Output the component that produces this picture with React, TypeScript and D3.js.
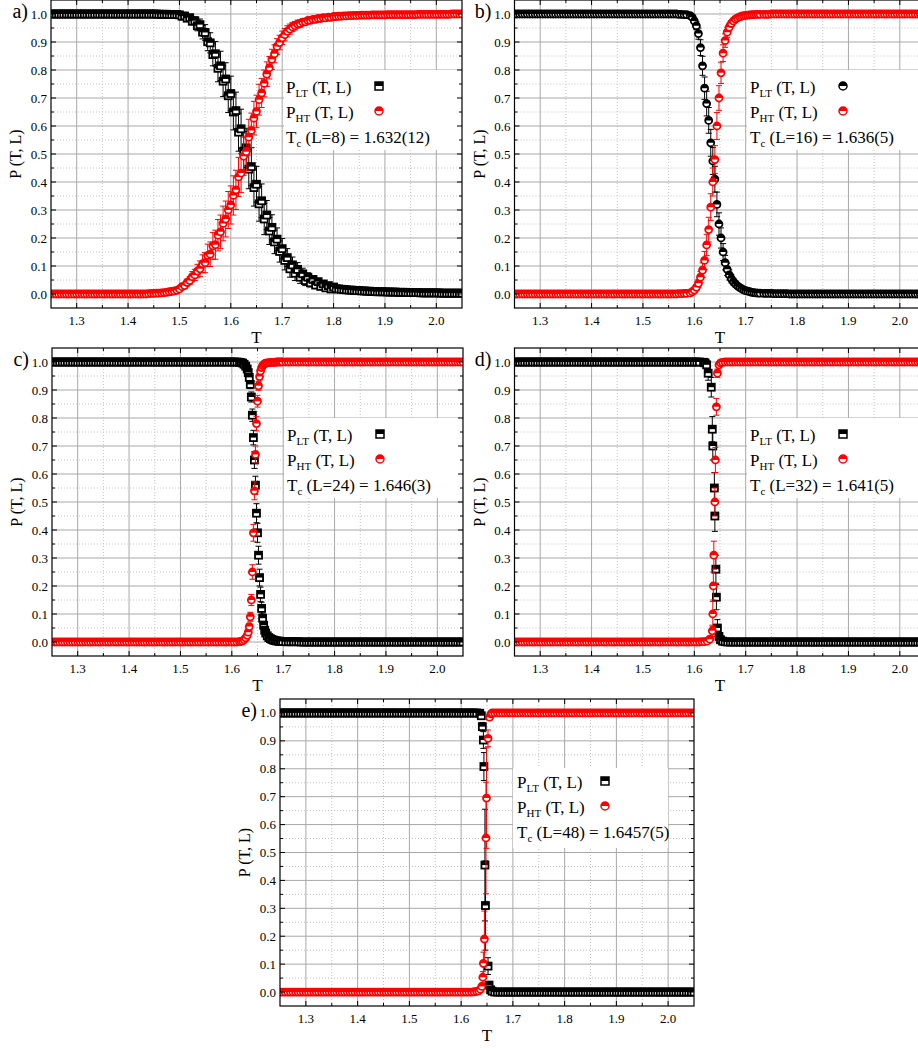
import React from "react";
import * as d3 from "d3";

// ---------- temperature grids of the plateau runs ----------
const LOW_T = [
  1.25, 1.255, 1.26, 1.265, 1.27, 1.275, 1.28, 1.285, 1.29, 1.295,
  1.3, 1.305, 1.31, 1.315, 1.32, 1.325, 1.33, 1.335, 1.34, 1.345,
  1.35, 1.355, 1.36, 1.365, 1.37, 1.375, 1.38, 1.385, 1.39, 1.395,
  1.4, 1.405, 1.41, 1.415, 1.42, 1.425, 1.43, 1.435, 1.44, 1.445,
  1.45, 1.455, 1.46, 1.465, 1.47, 1.475, 1.48, 1.485, 1.49, 1.495,
  1.5, 1.505, 1.51, 1.515, 1.52, 1.525, 1.53, 1.535, 1.54, 1.545,
  1.55, 1.555, 1.56, 1.565, 1.57, 1.575, 1.58, 1.585, 1.59, 1.595,
  1.6, 1.605, 1.61, 1.615, 1.62, 1.625, 1.63,
];
const HIGH_T = [
  1.66, 1.665, 1.67, 1.675, 1.68, 1.685, 1.69, 1.695, 1.7, 1.705,
  1.71, 1.715, 1.72, 1.725, 1.73, 1.735, 1.74, 1.745, 1.75, 1.755,
  1.76, 1.765, 1.77, 1.775, 1.78, 1.785, 1.79, 1.795, 1.8, 1.805,
  1.81, 1.815, 1.82, 1.825, 1.83, 1.835, 1.84, 1.845, 1.85, 1.855,
  1.86, 1.865, 1.87, 1.875, 1.88, 1.885, 1.89, 1.895, 1.9, 1.905,
  1.91, 1.915, 1.92, 1.925, 1.93, 1.935, 1.94, 1.945, 1.95, 1.955,
  1.96, 1.965, 1.97, 1.975, 1.98, 1.985, 1.99, 1.995, 2.0, 2.005,
  2.01, 2.015, 2.02, 2.025, 2.03, 2.035, 2.04, 2.045, 2.05,
];

// ---------- a) L = 8 ----------
const midTA = [
  1.5, 1.505, 1.51, 1.515, 1.52, 1.525, 1.53, 1.535, 1.54, 1.545,
  1.55, 1.555, 1.56, 1.565, 1.57, 1.575, 1.58, 1.585, 1.59, 1.595,
  1.6, 1.605, 1.61, 1.615, 1.62, 1.625, 1.63, 1.635, 1.64, 1.645,
  1.65, 1.655, 1.66, 1.665, 1.67, 1.675, 1.68, 1.685, 1.69, 1.695,
  1.7, 1.705, 1.71, 1.715, 1.72, 1.725, 1.73, 1.735, 1.74, 1.745,
  1.75, 1.755, 1.76, 1.765, 1.77, 1.775, 1.78, 1.785, 1.79, 1.795,
  1.8,
];
const tempsA = [...LOW_T.slice(0, 50), ...midTA, ...HIGH_T.slice(29)];
const pLtA = [
  // 1.25 – 1.495
  1,1,1,1,1,1,1,1,1,1, 1,1,1,1,1,1,1,1,1,1, 1,1,1,1,1,1,1,1,1,1, 1,1,1,1,1,1,1,1,1,1,
  1, 1, 0.999, 0.999, 0.999, 0.999, 0.998, 0.998, 0.998, 0.998,
  // 1.5 – 1.8
  0.997, 0.992, 0.993, 0.985, 0.987, 0.974, 0.976, 0.958, 0.962, 0.935,
  0.934, 0.901, 0.897, 0.855, 0.858, 0.806, 0.815, 0.76, 0.768, 0.708,
  0.716, 0.65, 0.655, 0.578, 0.59, 0.51, 0.522, 0.446, 0.455, 0.38,
  0.392, 0.322, 0.333, 0.268, 0.282, 0.225, 0.238, 0.186, 0.196, 0.152,
  0.162, 0.12, 0.13, 0.09, 0.104, 0.074, 0.088, 0.06, 0.072, 0.048,
  0.06, 0.04, 0.052, 0.032, 0.044, 0.027, 0.036, 0.022, 0.03, 0.018,
  0.025,
  // 1.805 – 2.05
  0.019, 0.018, 0.017, 0.016, 0.015, 0.014, 0.014, 0.013, 0.012, 0.012,
  0.011, 0.011, 0.01, 0.01, 0.009, 0.009, 0.008, 0.008, 0.008, 0.008,
  0.007, 0.007, 0.007, 0.007, 0.006, 0.006, 0.006, 0.006, 0.005, 0.005,
  0.005, 0.005, 0.005, 0.004, 0.004, 0.004, 0.004, 0.004, 0.004, 0.004,
  0.004, 0.003, 0.003, 0.003, 0.003, 0.003, 0.003, 0.003, 0.003, 0.003,
];
const eLtA = [
  0,0,0,0,0,0,0,0,0,0, 0,0,0,0,0,0,0,0,0,0, 0,0,0,0,0,0,0,0,0,0, 0,0,0,0,0,0,0,0,0,0,
  0, 0, 0.001, 0.001, 0.002, 0.002, 0.002, 0.003, 0.003, 0.003,
  0.004, 0.006, 0.006, 0.008, 0.01, 0.012, 0.014, 0.018, 0.02, 0.024,
  0.028, 0.032, 0.036, 0.04, 0.044, 0.048, 0.052, 0.055, 0.058, 0.06,
  0.062, 0.064, 0.066, 0.068, 0.07, 0.07, 0.07, 0.07, 0.068, 0.066,
  0.064, 0.062, 0.06, 0.056, 0.052, 0.048, 0.045, 0.042, 0.04, 0.038,
  0.036, 0.034, 0.032, 0.03, 0.028, 0.026, 0.024, 0.022, 0.02, 0.018,
  0.016, 0.015, 0.014, 0.013, 0.012, 0.011, 0.01, 0.009, 0.008, 0.008,
  0.007,
  0.007, 0.006, 0.006, 0.006, 0.006, 0.005, 0.005, 0.005, 0.005, 0.005,
  0.004, 0.004, 0.004, 0.004, 0.004, 0.004, 0.004, 0.004, 0.004, 0.004,
  0.003, 0.003, 0.003, 0.003, 0.003, 0.003, 0.003, 0.003, 0.003, 0.003,
  0.002, 0.002, 0.002, 0.002, 0.002, 0.002, 0.002, 0.002, 0.002, 0.002,
  0.002, 0.002, 0.001, 0.001, 0.001, 0.001, 0.001, 0.001, 0.001, 0.001,
];
const pHtA = [
  0,0,0,0,0,0,0,0,0,0, 0,0,0,0,0,0,0,0,0,0, 0,0,0,0,0,0,0,0,0,0,
  0, 0, 0, 0, 0, 0, 0, 0, 0.001, 0.002,
  0.002, 0.003, 0.003, 0.004, 0.005, 0.006, 0.008, 0.009, 0.011, 0.013,
  0.018, 0.026, 0.03, 0.041, 0.048, 0.062, 0.068, 0.082, 0.09, 0.108,
  0.112, 0.138, 0.142, 0.172, 0.176, 0.21, 0.222, 0.252, 0.268, 0.3,
  0.318, 0.352, 0.372, 0.418, 0.432, 0.492, 0.508, 0.56, 0.584, 0.628,
  0.652, 0.694, 0.718, 0.752, 0.785, 0.808, 0.838, 0.858, 0.884, 0.898,
  0.915, 0.926, 0.938, 0.946, 0.954, 0.958, 0.964, 0.966, 0.971, 0.972,
  0.977, 0.977, 0.981, 0.981, 0.984, 0.984, 0.987, 0.986, 0.989, 0.988,
  0.991,
  0.991, 0.992, 0.992, 0.993, 0.993, 0.994, 0.994, 0.995, 0.995, 0.995,
  0.996, 0.996, 0.996, 0.996, 0.997, 0.997, 0.997, 0.997, 0.997, 0.997,
  0.998, 0.998, 0.998, 0.998, 0.998, 0.998, 0.998, 0.998, 0.998, 0.998,
  0.998, 0.998, 0.999, 0.999, 0.999, 0.999, 0.999, 0.999, 0.999, 0.999,
  0.999, 0.999, 0.999, 0.999, 0.999, 1, 1, 1, 1, 1,
];
const eHtA = [
  0,0,0,0,0,0,0,0,0,0, 0,0,0,0,0,0,0,0,0,0, 0,0,0,0,0,0,0,0,0,0,
  0, 0, 0, 0, 0, 0, 0, 0, 0.001, 0.001,
  0.001, 0.001, 0.002, 0.002, 0.002, 0.003, 0.003, 0.004, 0.004, 0.005,
  0.006, 0.008, 0.01, 0.012, 0.014, 0.018, 0.02, 0.024, 0.028, 0.032,
  0.036, 0.04, 0.044, 0.048, 0.052, 0.056, 0.06, 0.062, 0.064, 0.066,
  0.068, 0.07, 0.07, 0.07, 0.07, 0.068, 0.066, 0.064, 0.062, 0.06,
  0.058, 0.055, 0.052, 0.048, 0.044, 0.04, 0.036, 0.032, 0.028, 0.026,
  0.024, 0.022, 0.02, 0.018, 0.016, 0.015, 0.014, 0.013, 0.012, 0.011,
  0.01, 0.01, 0.009, 0.009, 0.008, 0.008, 0.007, 0.007, 0.006, 0.006,
  0.006,
  0.005, 0.005, 0.004, 0.004, 0.004, 0.004, 0.004, 0.004, 0.003, 0.003,
  0.003, 0.003, 0.003, 0.003, 0.003, 0.003, 0.003, 0.003, 0.003, 0.003,
  0.002, 0.002, 0.002, 0.002, 0.002, 0.002, 0.002, 0.002, 0.002, 0.002,
  0.001, 0.001, 0.001, 0.001, 0.001, 0.001, 0.001, 0.001, 0.001, 0.001,
  0.001, 0.001, 0.001, 0.001, 0.001, 0, 0, 0, 0, 0,
];

// ---------- b) L = 16 ----------
const midTB = [
  1.592, 1.596, 1.6, 1.604, 1.608, 1.612, 1.616, 1.62, 1.624, 1.628,
  1.632, 1.636, 1.64, 1.644, 1.648, 1.652, 1.656, 1.66, 1.664, 1.668,
  1.672, 1.676, 1.68, 1.684, 1.688, 1.692, 1.696, 1.7, 1.704, 1.708,
  1.712, 1.716, 1.72, 1.724, 1.728,
];
const tempsB = [...LOW_T.slice(0, 68), ...midTB, ...HIGH_T.slice(15)];
const pLtB = [
  // 1.25 – 1.585
  1,1,1,1,1,1,1,1,1,1, 1,1,1,1,1,1,1,1,1,1, 1,1,1,1,1,1,1,1,1,1,
  1,1,1,1,1,1,1,1,1,1, 1,1,1,1,1,1,1,1,1,1, 1,1,1,1,1,1,1,1,1,1,
  1, 1, 1, 1, 0.999, 0.999, 0.998, 0.998,
  // 1.592 – 1.728
  0.994, 0.988, 0.975, 0.958, 0.93, 0.88, 0.815, 0.735, 0.68, 0.62,
  0.54, 0.475, 0.41, 0.32, 0.25, 0.2, 0.15, 0.112, 0.088, 0.068,
  0.055, 0.044, 0.036, 0.029, 0.024, 0.019, 0.015, 0.012, 0.01, 0.008,
  0.006, 0.005, 0.004, 0.003, 0.003,
  // 1.735 – 2.05
  0.002, 0.002, 0.002, 0.002, 0.001, 0.001, 0.001, 0.001, 0.001, 0.001,
  0,0,0,0,0,0,0,0,0,0, 0,0,0,0,0,0,0,0,0,0, 0,0,0,0,0,0,0,0,0,0,
  0,0,0,0,0,0,0,0,0,0, 0,0,0,0,0,0,0,0,0,0,
  0, 0, 0, 0,
];
const eLtB = [
  0,0,0,0,0,0,0,0,0,0, 0,0,0,0,0,0,0,0,0,0, 0,0,0,0,0,0,0,0,0,0,
  0,0,0,0,0,0,0,0,0,0, 0,0,0,0,0,0,0,0,0,0, 0,0,0,0,0,0,0,0,0,0,
  0, 0, 0, 0, 0.001, 0.001, 0.002, 0.002,
  0.004, 0.006, 0.01, 0.014, 0.02, 0.028, 0.034, 0.04, 0.044, 0.046,
  0.048, 0.048, 0.046, 0.044, 0.04, 0.036, 0.03, 0.026, 0.022, 0.018,
  0.015, 0.012, 0.01, 0.008, 0.007, 0.006, 0.005, 0.004, 0.004, 0.003,
  0.003, 0.002, 0.002, 0.002, 0.001,
  0,0,0,0,0,0,0,0,0,0, 0,0,0,0,0,0,0,0,0,0, 0,0,0,0,0,0,0,0,0,0,
  0,0,0,0,0,0,0,0,0,0, 0,0,0,0,0,0,0,0,0,0, 0,0,0,0,0,0,0,0,0,0,
  0, 0, 0, 0,
];
const pHtB = [
  0,0,0,0,0,0,0,0,0,0, 0,0,0,0,0,0,0,0,0,0, 0,0,0,0,0,0,0,0,0,0,
  0,0,0,0,0,0,0,0,0,0, 0,0,0,0,0,0,0,0,0,0, 0,0,0,0,0,0,0,0,0,0,
  0, 0, 0, 0, 0.001, 0.001, 0.002, 0.002,
  0.004, 0.008, 0.014, 0.024, 0.038, 0.06, 0.085, 0.12, 0.175, 0.23,
  0.31, 0.4, 0.48, 0.6, 0.7, 0.79, 0.86, 0.905, 0.935, 0.953,
  0.966, 0.975, 0.982, 0.986, 0.99, 0.992, 0.994, 0.995, 0.996, 0.997,
  0.998, 0.998, 0.999, 0.999, 0.999,
  0.999, 0.999, 0.999, 1, 1, 1, 1, 1, 1, 1,
  1,1,1,1,1,1,1,1,1,1, 1,1,1,1,1,1,1,1,1,1, 1,1,1,1,1,1,1,1,1,1,
  1,1,1,1,1,1,1,1,1,1, 1,1,1,1,1,1,1,1,1,1,
  1, 1, 1, 1,
];
const eHtB = [
  0,0,0,0,0,0,0,0,0,0, 0,0,0,0,0,0,0,0,0,0, 0,0,0,0,0,0,0,0,0,0,
  0,0,0,0,0,0,0,0,0,0, 0,0,0,0,0,0,0,0,0,0, 0,0,0,0,0,0,0,0,0,0,
  0, 0, 0, 0, 0.001, 0.001, 0.001, 0.001,
  0.002, 0.004, 0.006, 0.01, 0.014, 0.02, 0.026, 0.032, 0.038, 0.044,
  0.048, 0.05, 0.05, 0.048, 0.044, 0.038, 0.03, 0.024, 0.018, 0.014,
  0.011, 0.009, 0.007, 0.006, 0.005, 0.004, 0.003, 0.003, 0.002, 0.002,
  0.002, 0.001, 0.001, 0.001, 0.001,
  0,0,0,0,0,0,0,0,0,0, 0,0,0,0,0,0,0,0,0,0, 0,0,0,0,0,0,0,0,0,0,
  0,0,0,0,0,0,0,0,0,0, 0,0,0,0,0,0,0,0,0,0, 0,0,0,0,0,0,0,0,0,0,
  0, 0, 0, 0,
];

// ---------- c) L = 24 ----------
const midTC = [
  1.615, 1.618, 1.621, 1.624, 1.627, 1.63, 1.632, 1.634, 1.636, 1.638,
  1.64, 1.642, 1.644, 1.646, 1.648, 1.65, 1.652, 1.654, 1.656, 1.658,
  1.66, 1.662, 1.664, 1.666, 1.669, 1.672, 1.675, 1.678, 1.681, 1.684,
  1.687, 1.69, 1.693, 1.696, 1.699,
];
const tempsC = [...LOW_T.slice(0, 73), ...midTC, ...HIGH_T.slice(9)];
const pLtC = [
  // 1.25 – 1.61
  1,1,1,1,1,1,1,1,1,1, 1,1,1,1,1,1,1,1,1,1, 1,1,1,1,1,1,1,1,1,1,
  1,1,1,1,1,1,1,1,1,1, 1,1,1,1,1,1,1,1,1,1, 1,1,1,1,1,1,1,1,1,1,
  1,1,1,1,1,1,1,1,1,1, 1, 1, 1,
  // 1.615 – 1.699
  0.999, 0.998, 0.996, 0.992, 0.985, 0.975, 0.962, 0.945, 0.92, 0.875,
  0.81, 0.73, 0.65, 0.56, 0.46, 0.39, 0.31, 0.23, 0.17, 0.12,
  0.085, 0.06, 0.042, 0.032, 0.022, 0.016, 0.012, 0.009, 0.007, 0.005,
  0.004, 0.003, 0.003, 0.002, 0.002,
  // 1.705 – 2.05
  0.001, 0.001, 0.001, 0.001, 0.001, 0.001, 0, 0, 0, 0,
  0,0,0,0,0,0,0,0,0,0, 0,0,0,0,0,0,0,0,0,0, 0,0,0,0,0,0,0,0,0,0,
  0,0,0,0,0,0,0,0,0,0, 0,0,0,0,0,0,0,0,0,0, 0,0,0,0,0,0,0,0,0,0,
];
const eLtC = [
  0,0,0,0,0,0,0,0,0,0, 0,0,0,0,0,0,0,0,0,0, 0,0,0,0,0,0,0,0,0,0,
  0,0,0,0,0,0,0,0,0,0, 0,0,0,0,0,0,0,0,0,0, 0,0,0,0,0,0,0,0,0,0,
  0,0,0,0,0,0,0,0,0,0, 0, 0, 0,
  0.001, 0.002, 0.003, 0.004, 0.006, 0.008, 0.01, 0.012, 0.015, 0.018,
  0.022, 0.026, 0.03, 0.032, 0.034, 0.034, 0.032, 0.03, 0.026, 0.022,
  0.018, 0.014, 0.01, 0.008, 0.006, 0.005, 0.004, 0.003, 0.003, 0.002,
  0.002, 0.002, 0.001, 0.001, 0.001,
  0,0,0,0,0,0,0,0,0,0, 0,0,0,0,0,0,0,0,0,0, 0,0,0,0,0,0,0,0,0,0,
  0,0,0,0,0,0,0,0,0,0, 0,0,0,0,0,0,0,0,0,0, 0,0,0,0,0,0,0,0,0,0,
  0,0,0,0,0,0,0,0,0,0,
];
const pHtC = [
  0,0,0,0,0,0,0,0,0,0, 0,0,0,0,0,0,0,0,0,0, 0,0,0,0,0,0,0,0,0,0,
  0,0,0,0,0,0,0,0,0,0, 0,0,0,0,0,0,0,0,0,0, 0,0,0,0,0,0,0,0,0,0,
  0,0,0,0,0,0,0,0,0,0, 0, 0, 0,
  0.001, 0.002, 0.004, 0.008, 0.015, 0.024, 0.035, 0.055, 0.09, 0.15,
  0.25, 0.39, 0.54, 0.67, 0.78, 0.86, 0.915, 0.948, 0.968, 0.98,
  0.987, 0.991, 0.994, 0.996, 0.997, 0.998, 0.998, 0.999, 0.999, 0.999,
  1, 1, 1, 1, 1,
  1,1,1,1,1,1,1,1,1,1, 1,1,1,1,1,1,1,1,1,1, 1,1,1,1,1,1,1,1,1,1,
  1,1,1,1,1,1,1,1,1,1, 1,1,1,1,1,1,1,1,1,1, 1,1,1,1,1,1,1,1,1,1,
  1,1,1,1,1,1,1,1,1,1,
];
const eHtC = [
  0,0,0,0,0,0,0,0,0,0, 0,0,0,0,0,0,0,0,0,0, 0,0,0,0,0,0,0,0,0,0,
  0,0,0,0,0,0,0,0,0,0, 0,0,0,0,0,0,0,0,0,0, 0,0,0,0,0,0,0,0,0,0,
  0,0,0,0,0,0,0,0,0,0, 0, 0, 0,
  0.001, 0.001, 0.002, 0.003, 0.005, 0.007, 0.009, 0.012, 0.016, 0.02,
  0.026, 0.03, 0.032, 0.03, 0.026, 0.021, 0.016, 0.012, 0.009, 0.007,
  0.005, 0.004, 0.003, 0.002, 0.002, 0.001, 0.001, 0.001, 0.001, 0,
  0, 0, 0, 0, 0,
  0,0,0,0,0,0,0,0,0,0, 0,0,0,0,0,0,0,0,0,0, 0,0,0,0,0,0,0,0,0,0,
  0,0,0,0,0,0,0,0,0,0, 0,0,0,0,0,0,0,0,0,0, 0,0,0,0,0,0,0,0,0,0,
  0,0,0,0,0,0,0,0,0,0,
];

// ---------- d) L = 32 ----------
const tempsLtD = [
  ...LOW_T.slice(0, 73),
  1.618, 1.621, 1.624, 1.627, 1.633, 1.635, 1.636, 1.639, 1.64, 1.642,
  1.643, 1.645, 1.648, 1.651, 1.655, 1.66,
  ...HIGH_T.slice(1),
];
const pLtD = [
  1,1,1,1,1,1,1,1,1,1, 1,1,1,1,1,1,1,1,1,1, 1,1,1,1,1,1,1,1,1,1,
  1,1,1,1,1,1,1,1,1,1, 1,1,1,1,1,1,1,1,1,1, 1,1,1,1,1,1,1,1,1,1,
  1,1,1,1,1,1,1,1,1,1, 1, 1, 1,
  0.999, 0.997, 0.99, 0.96, 0.91, 0.76, 0.7, 0.55, 0.45, 0.26,
  0.16, 0.05, 0.02, 0.008, 0.003, 0.001,
  0,0,0,0,0,0,0,0,0,0, 0,0,0,0,0,0,0,0,0,0, 0,0,0,0,0,0,0,0,0,0,
  0,0,0,0,0,0,0,0,0,0, 0,0,0,0,0,0,0,0,0,0, 0,0,0,0,0,0,0,0,0,0,
  0,0,0,0,0,0,0,0,0,0, 0,0,0,0,0,0,0,0,
];
const eLtD = [
  0,0,0,0,0,0,0,0,0,0, 0,0,0,0,0,0,0,0,0,0, 0,0,0,0,0,0,0,0,0,0,
  0,0,0,0,0,0,0,0,0,0, 0,0,0,0,0,0,0,0,0,0, 0,0,0,0,0,0,0,0,0,0,
  0,0,0,0,0,0,0,0,0,0, 0, 0, 0,
  0.001, 0.003, 0.008, 0.025, 0.035, 0.045, 0.05, 0.055, 0.055, 0.05,
  0.045, 0.03, 0.01, 0.004, 0.002, 0.001,
  0,0,0,0,0,0,0,0,0,0, 0,0,0,0,0,0,0,0,0,0, 0,0,0,0,0,0,0,0,0,0,
  0,0,0,0,0,0,0,0,0,0, 0,0,0,0,0,0,0,0,0,0, 0,0,0,0,0,0,0,0,0,0,
  0,0,0,0,0,0,0,0,0,0, 0,0,0,0,0,0,0,0,
];
const tempsHtD = [
  ...LOW_T.slice(0, 75),
  1.625, 1.63, 1.635, 1.636, 1.637, 1.638, 1.64, 1.641, 1.643, 1.645,
  1.648, 1.651, 1.655,
  ...HIGH_T,
];
const pHtD = [
  0,0,0,0,0,0,0,0,0,0, 0,0,0,0,0,0,0,0,0,0, 0,0,0,0,0,0,0,0,0,0,
  0,0,0,0,0,0,0,0,0,0, 0,0,0,0,0,0,0,0,0,0, 0,0,0,0,0,0,0,0,0,0,
  0,0,0,0,0,0,0,0,0,0, 0, 0, 0, 0.001, 0.001,
  0.003, 0.01, 0.04, 0.1, 0.2, 0.31, 0.5, 0.65, 0.84, 0.96,
  0.99, 0.997, 0.999,
  1,1,1,1,1,1,1,1,1,1, 1,1,1,1,1,1,1,1,1,1, 1,1,1,1,1,1,1,1,1,1,
  1,1,1,1,1,1,1,1,1,1, 1,1,1,1,1,1,1,1,1,1, 1,1,1,1,1,1,1,1,1,1,
  1,1,1,1,1,1,1,1,1,1, 1,1,1,1,1,1,1,1,1,
];
const eHtD = [
  0,0,0,0,0,0,0,0,0,0, 0,0,0,0,0,0,0,0,0,0, 0,0,0,0,0,0,0,0,0,0,
  0,0,0,0,0,0,0,0,0,0, 0,0,0,0,0,0,0,0,0,0, 0,0,0,0,0,0,0,0,0,0,
  0,0,0,0,0,0,0,0,0,0, 0, 0, 0, 0, 0,
  0.002, 0.005, 0.02, 0.045, 0.05, 0.05, 0.05, 0.045, 0.03, 0.015,
  0.005, 0.002, 0.001,
  0,0,0,0,0,0,0,0,0,0, 0,0,0,0,0,0,0,0,0,0, 0,0,0,0,0,0,0,0,0,0,
  0,0,0,0,0,0,0,0,0,0, 0,0,0,0,0,0,0,0,0,0, 0,0,0,0,0,0,0,0,0,0,
  0,0,0,0,0,0,0,0,0,0, 0,0,0,0,0,0,0,0,0,
];

// ---------- e) L = 48 ----------
const tempsLtE = [
  ...LOW_T,
  1.636, 1.639, 1.641, 1.643, 1.644, 1.646, 1.647, 1.652, 1.654, 1.657,
  1.66,
  ...HIGH_T.slice(1),
];
const pLtE = [
  1,1,1,1,1,1,1,1,1,1, 1,1,1,1,1,1,1,1,1,1, 1,1,1,1,1,1,1,1,1,1,
  1,1,1,1,1,1,1,1,1,1, 1,1,1,1,1,1,1,1,1,1, 1,1,1,1,1,1,1,1,1,1,
  1,1,1,1,1,1,1,1,1,1, 1, 1, 1, 1, 1, 1, 1,
  0.999, 0.99, 0.951, 0.903, 0.808, 0.455, 0.31, 0.093, 0.025, 0.008,
  0.003,
  0,0,0,0,0,0,0,0,0,0, 0,0,0,0,0,0,0,0,0,0, 0,0,0,0,0,0,0,0,0,0,
  0,0,0,0,0,0,0,0,0,0, 0,0,0,0,0,0,0,0,0,0, 0,0,0,0,0,0,0,0,0,0,
  0,0,0,0,0,0,0,0,0,0, 0,0,0,0,0,0,0,0,
];
const eLtE = [
  0,0,0,0,0,0,0,0,0,0, 0,0,0,0,0,0,0,0,0,0, 0,0,0,0,0,0,0,0,0,0,
  0,0,0,0,0,0,0,0,0,0, 0,0,0,0,0,0,0,0,0,0, 0,0,0,0,0,0,0,0,0,0,
  0,0,0,0,0,0,0,0,0,0, 0, 0, 0, 0, 0, 0, 0,
  0.001, 0.005, 0.015, 0.03, 0.05, 0.2, 0.16, 0.03, 0.01, 0.004,
  0.001,
  0,0,0,0,0,0,0,0,0,0, 0,0,0,0,0,0,0,0,0,0, 0,0,0,0,0,0,0,0,0,0,
  0,0,0,0,0,0,0,0,0,0, 0,0,0,0,0,0,0,0,0,0, 0,0,0,0,0,0,0,0,0,0,
  0,0,0,0,0,0,0,0,0,0, 0,0,0,0,0,0,0,0,
];
const tempsHtE = [
  ...LOW_T.slice(0, 75),
  1.625, 1.63, 1.634, 1.637, 1.64, 1.642, 1.643, 1.645, 1.648, 1.649,
  1.652, 1.655, 1.658,
  ...HIGH_T,
];
const pHtE = [
  0,0,0,0,0,0,0,0,0,0, 0,0,0,0,0,0,0,0,0,0, 0,0,0,0,0,0,0,0,0,0,
  0,0,0,0,0,0,0,0,0,0, 0,0,0,0,0,0,0,0,0,0, 0,0,0,0,0,0,0,0,0,0,
  0,0,0,0,0,0,0,0,0,0, 0, 0, 0, 0, 0,
  0.001, 0.002, 0.004, 0.01, 0.02, 0.053, 0.103, 0.19, 0.552, 0.695,
  0.909, 0.985, 0.997,
  1,1,1,1,1,1,1,1,1,1, 1,1,1,1,1,1,1,1,1,1, 1,1,1,1,1,1,1,1,1,1,
  1,1,1,1,1,1,1,1,1,1, 1,1,1,1,1,1,1,1,1,1, 1,1,1,1,1,1,1,1,1,1,
  1,1,1,1,1,1,1,1,1,1, 1,1,1,1,1,1,1,1,1,
];
const eHtE = [
  0,0,0,0,0,0,0,0,0,0, 0,0,0,0,0,0,0,0,0,0, 0,0,0,0,0,0,0,0,0,0,
  0,0,0,0,0,0,0,0,0,0, 0,0,0,0,0,0,0,0,0,0, 0,0,0,0,0,0,0,0,0,0,
  0,0,0,0,0,0,0,0,0,0, 0, 0, 0, 0, 0,
  0, 0.001, 0.002, 0.004, 0.008, 0.02, 0.04, 0.1, 0.2, 0.18,
  0.03, 0.01, 0.003,
  0,0,0,0,0,0,0,0,0,0, 0,0,0,0,0,0,0,0,0,0, 0,0,0,0,0,0,0,0,0,0,
  0,0,0,0,0,0,0,0,0,0, 0,0,0,0,0,0,0,0,0,0, 0,0,0,0,0,0,0,0,0,0,
  0,0,0,0,0,0,0,0,0,0, 0,0,0,0,0,0,0,0,0,
];

// ---------- labels ----------
const panelLabels = ["a)", "b)", "c)", "d)", "e)"];
const tcLabels = [
  " (L=8) = 1.632(12)",
  " (L=16) = 1.636(5)",
  " (L=24) = 1.646(3)",
  " (L=32) = 1.641(5)",
  " (L=48) = 1.6457(5)",
];
const xMajor = [1.3, 1.4, 1.5, 1.6, 1.7, 1.8, 1.9, 2.0];
const xMinor = [1.35, 1.45, 1.55, 1.65, 1.75, 1.85, 1.95];
const yMajor = [0, 0.1, 0.2, 0.3, 0.4, 0.5, 0.6, 0.7, 0.8, 0.9, 1.0];
const yMinor = [0.05, 0.15, 0.25, 0.35, 0.45, 0.55, 0.65, 0.75, 0.85, 0.95];

const FONT = "'Liberation Serif', 'Times New Roman', Times, serif";
const BLACK = "#000000";
const RED = "#ff0000";

type Shape = "square" | "circle";
type SeriesData = { temps: number[]; p: number[]; err: number[] };

type Layout = {
  left: number;
  right: number;
  top: number;
  bottom: number;
  legendBox: [number, number, number, number];
  legendX: number;
  legendY: number;
  markerDx: number;
};

const layouts: Layout[] = [
  { left: 51, right: 462, top: 0, bottom: 308, legendBox: [284, 70, 461, 150], legendX: 286, legendY: 93, markerDx: 93 },
  { left: 514.5, right: 925.5, top: 0, bottom: 308, legendBox: [747, 70, 925, 150], legendX: 750, legendY: 93, markerDx: 93 },
  { left: 52, right: 463, top: 348, bottom: 656, legendBox: [284, 418, 462, 498], legendX: 287, legendY: 441, markerDx: 93 },
  { left: 514.5, right: 925.5, top: 348, bottom: 656, legendBox: [747, 418, 925, 498], legendX: 750, legendY: 441, markerDx: 93 },
  { left: 280, right: 694, top: 699, bottom: 1006, legendBox: [513, 768, 668, 848], legendX: 517, legendY: 788, markerDx: 88 },
];

const panelSeries: { lt: SeriesData; ht: SeriesData; ltShape: Shape }[] = [
  { lt: { temps: tempsA, p: pLtA, err: eLtA }, ht: { temps: tempsA, p: pHtA, err: eHtA }, ltShape: "square" },
  { lt: { temps: tempsB, p: pLtB, err: eLtB }, ht: { temps: tempsB, p: pHtB, err: eHtB }, ltShape: "circle" },
  { lt: { temps: tempsC, p: pLtC, err: eLtC }, ht: { temps: tempsC, p: pHtC, err: eHtC }, ltShape: "square" },
  { lt: { temps: tempsLtD, p: pLtD, err: eLtD }, ht: { temps: tempsHtD, p: pHtD, err: eHtD }, ltShape: "square" },
  { lt: { temps: tempsLtE, p: pLtE, err: eLtE }, ht: { temps: tempsHtE, p: pHtE, err: eHtE }, ltShape: "square" },
];

function Marker({ cx, cy, shape, color, size, sw }: { cx: number; cy: number; shape: Shape; color: string; size: number; sw: number }) {
  const h = size / 2;
  if (shape === "square") {
    return (
      <g>
        <rect x={cx - h} y={cy - h} width={size} height={size} fill="#ffffff" stroke={color} strokeWidth={sw} />
        <rect x={cx - h} y={cy - h} width={size} height={h} fill={color} />
      </g>
    );
  }
  return (
    <g>
      <circle cx={cx} cy={cy} r={h} fill="#ffffff" stroke={color} strokeWidth={sw} />
      <path d={`M${cx - h},${cy} A${h},${h} 0 0 1 ${cx + h},${cy} Z`} fill={color} />
    </g>
  );
}

function SeriesMarks({ data, x, y, shape, color }: { data: SeriesData; x: d3.ScaleLinear<number, number>; y: d3.ScaleLinear<number, number>; shape: Shape; color: string }) {
  const n = Math.min(data.temps.length, data.p.length, data.err.length);
  const idx = d3.range(n);
  return (
    <g>
      {idx
        .filter((i) => data.err[i] > 0.0005)
        .map((i) => {
          const cx = x(data.temps[i]);
          const y1 = y(data.p[i] - data.err[i]);
          const y2 = y(data.p[i] + data.err[i]);
          return (
            <g key={`e${i}`} stroke={color} strokeWidth={1}>
              <line x1={cx} x2={cx} y1={y1} y2={y2} />
              <line x1={cx - 3} x2={cx + 3} y1={y1} y2={y1} />
              <line x1={cx - 3} x2={cx + 3} y1={y2} y2={y2} />
            </g>
          );
        })}
      {idx.map((i) => (
        <Marker key={`m${i}`} cx={x(data.temps[i])} cy={y(data.p[i])} shape={shape} color={color} size={7} sw={1.8} />
      ))}
    </g>
  );
}

function Panel({ index }: { index: number }) {
  const L = layouts[index];
  const S = panelSeries[index];
  const x = d3.scaleLinear().domain([1.25, 2.05]).range([L.left, L.right]);
  const y = d3.scaleLinear().domain([-0.05, 1.05]).range([L.bottom, L.top]);
  const clipId = `plot-clip-${index}`;
  const fmt = d3.format(".1f");
  const MAJ = 5;
  const MIN = 3;
  const [bx0, by0, bx1, by1] = L.legendBox;
  const cy = (L.top + L.bottom) / 2;
  const cxMid = (L.left + L.right) / 2;

  return (
    <g>
      <defs>
        <clipPath id={clipId}>
          <rect x={L.left} y={L.top} width={L.right - L.left} height={L.bottom - L.top} />
        </clipPath>
      </defs>
      {/* grid */}
      <g>
        {xMinor.map((t) => (
          <line key={`gxm${t}`} x1={x(t)} x2={x(t)} y1={L.top} y2={L.bottom} stroke="#c4c4c4" strokeWidth={1} strokeDasharray="1,2" />
        ))}
        {yMinor.map((v) => (
          <line key={`gym${v}`} x1={L.left} x2={L.right} y1={y(v)} y2={y(v)} stroke="#c4c4c4" strokeWidth={1} strokeDasharray="1,2" />
        ))}
        {xMajor.map((t) => (
          <line key={`gx${t}`} x1={x(t)} x2={x(t)} y1={L.top} y2={L.bottom} stroke="#a8a8a8" strokeWidth={1} />
        ))}
        {yMajor.map((v) => (
          <line key={`gy${v}`} x1={L.left} x2={L.right} y1={y(v)} y2={y(v)} stroke="#a8a8a8" strokeWidth={1} />
        ))}
      </g>
      {/* legend background */}
      <rect x={bx0} y={by0} width={bx1 - bx0} height={by1 - by0} fill="#ffffff" />
      {/* data */}
      <g clipPath={`url(#${clipId})`}>
        <SeriesMarks data={S.lt} x={x} y={y} shape={S.ltShape} color={BLACK} />
        <SeriesMarks data={S.ht} x={x} y={y} shape="circle" color={RED} />
      </g>
      {/* frame */}
      <rect x={L.left} y={L.top} width={L.right - L.left} height={L.bottom - L.top} fill="none" stroke="#000" strokeWidth={1.2} />
      {/* ticks */}
      <g stroke="#000" strokeWidth={1}>
        {xMajor.map((t) => (
          <g key={`tx${t}`}>
            <line x1={x(t)} x2={x(t)} y1={L.bottom} y2={L.bottom - MAJ} />
            <line x1={x(t)} x2={x(t)} y1={L.top} y2={L.top + MAJ} />
          </g>
        ))}
        {xMinor.map((t) => (
          <g key={`txm${t}`}>
            <line x1={x(t)} x2={x(t)} y1={L.bottom} y2={L.bottom - MIN} />
            <line x1={x(t)} x2={x(t)} y1={L.top} y2={L.top + MIN} />
          </g>
        ))}
        {yMajor.map((v) => (
          <g key={`ty${v}`}>
            <line x1={L.left} x2={L.left + MAJ} y1={y(v)} y2={y(v)} />
            <line x1={L.right} x2={L.right - MAJ} y1={y(v)} y2={y(v)} />
          </g>
        ))}
        {yMinor.map((v) => (
          <g key={`tym${v}`}>
            <line x1={L.left} x2={L.left + MIN} y1={y(v)} y2={y(v)} />
            <line x1={L.right} x2={L.right - MIN} y1={y(v)} y2={y(v)} />
          </g>
        ))}
      </g>
      {/* tick labels */}
      <g fontFamily={FONT} fontSize={13} fill="#000">
        {xMajor.map((t) => (
          <text key={`lx${t}`} x={x(t)} y={L.bottom + 17} textAnchor="middle">
            {fmt(t)}
          </text>
        ))}
        {yMajor.map((v) => (
          <text key={`ly${v}`} x={L.left - 4} y={y(v) + 4.5} textAnchor="end">
            {fmt(v)}
          </text>
        ))}
      </g>
      {/* axis titles */}
      <text x={cxMid} y={L.bottom + 35} textAnchor="middle" fontFamily={FONT} fontSize={17}>
        T
      </text>
      <text
        transform={`translate(${L.left - 30},${cy}) rotate(-90)`}
        textAnchor="middle"
        fontFamily={FONT}
        fontSize={16}
        style={{ whiteSpace: "pre" }}
      >
        P (T, L)
      </text>
      {/* panel label */}
      <text x={L.left - 23} y={y(1.0) + 4} textAnchor="end" fontFamily={FONT} fontSize={20}>
        {panelLabels[index]}
      </text>
      {/* legend */}
      <g fontFamily={FONT} fontSize={17} fill="#000" style={{ whiteSpace: "pre" }}>
        <text x={L.legendX} y={L.legendY}>
          P<tspan fontSize={11} dy={4}>LT</tspan>
          <tspan dy={-4}> (T, L)</tspan>
        </text>
        <text x={L.legendX} y={L.legendY + 25}>
          P<tspan fontSize={11} dy={4}>HT</tspan>
          <tspan dy={-4}> (T, L)</tspan>
        </text>
        <text x={L.legendX} y={L.legendY + 50}>
          T<tspan fontSize={11} dy={4}>c</tspan>
          <tspan dy={-4}>{tcLabels[index]}</tspan>
        </text>
      </g>
      <Marker cx={L.legendX + L.markerDx} cy={L.legendY - 7} shape={S.ltShape} color={BLACK} size={8} sw={1.5} />
      <Marker cx={L.legendX + L.markerDx} cy={L.legendY + 18} shape="circle" color={RED} size={8} sw={1.5} />
    </g>
  );
}

export default function App() {
  return (
    <svg
      width={918}
      height={1048}
      viewBox="0 0 918 1048"
      style={{ position: "absolute", left: 0, top: 0, background: "#ffffff" }}
    >
      <rect x={0} y={0} width={918} height={1048} fill="#ffffff" />
      {panelLabels.map((_, i) => (
        <Panel key={i} index={i} />
      ))}
    </svg>
  );
}
